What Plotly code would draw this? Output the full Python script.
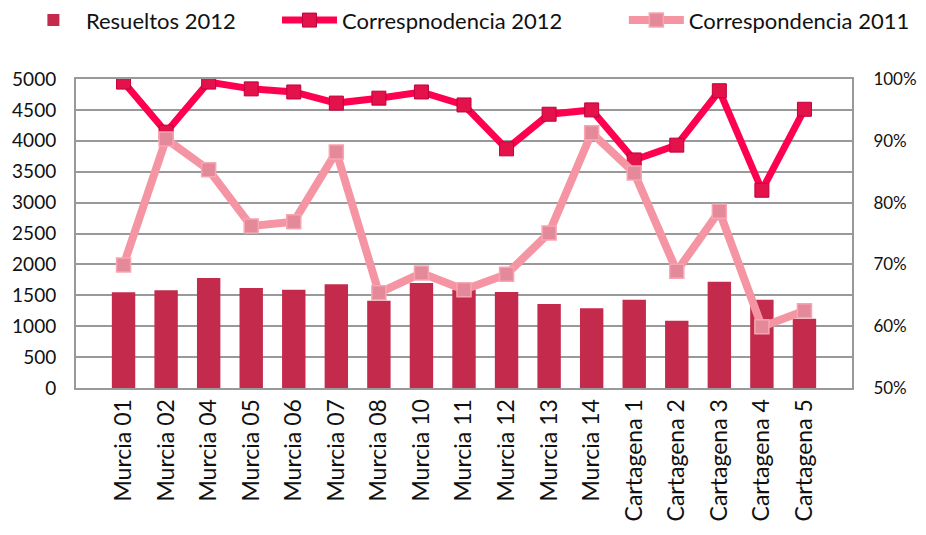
import plotly.graph_objects as go

# categorias
oficinas = ["Murcia 01", "Murcia 02", "Murcia 04", "Murcia 05", "Murcia 06", "Murcia 07",
            "Murcia 08", "Murcia 10", "Murcia 11", "Murcia 12", "Murcia 13", "Murcia 14",
            "Cartagena 1", "Cartagena 2", "Cartagena 3", "Cartagena 4", "Cartagena 5"]

# expedientes resueltos 2012 (eje izquierdo)
resueltos_2012 = [1550, 1580, 1780, 1620, 1590, 1680, 1410, 1700, 1590, 1555,
                  1360, 1290, 1430, 1090, 1720, 1430, 1120]

# correspondencia (eje derecho, fraccion)
corr_2012 = [0.995, 0.914, 0.995, 0.984, 0.979, 0.961, 0.969, 0.979, 0.958, 0.887,
             0.943, 0.950, 0.869, 0.893, 0.981, 0.820, 0.951]
corr_2011 = [0.699, 0.903, 0.853, 0.762, 0.769, 0.882, 0.654, 0.686, 0.659, 0.684,
             0.751, 0.913, 0.848, 0.689, 0.786, 0.599, 0.625]

font_name = "Lato"

fig = go.Figure()

fig.add_trace(go.Bar(
    x=oficinas, y=resueltos_2012, name="Resueltos 2012", legend="legend",
    marker=dict(color="#C42A4C", line=dict(width=0)),
    width=0.55,
))
fig.add_trace(go.Scatter(
    x=oficinas, y=corr_2012, name="Correspnodencia 2012", yaxis="y2", legend="legend2",
    mode="lines+markers",
    line=dict(color="#FF0050", width=7),
    marker=dict(symbol="square", size=14, color="#E3124B",
                line=dict(color="#C0003A", width=1)),
))
fig.add_trace(go.Scatter(
    x=oficinas, y=corr_2011, name="Correspondencia 2011", yaxis="y2", legend="legend3",
    mode="lines+markers",
    line=dict(color="#F595A3", width=8),
    marker=dict(symbol="square", size=14, color="#E4899A",
                line=dict(color="#F7A5B1", width=1.5)),
))

leg = dict(orientation="h", xanchor="left", y=1.19, yanchor="middle",
           font=dict(size=22), itemwidth=55, bgcolor="rgba(0,0,0,0)")

fig.update_layout(
    width=926, height=535,
    # la pagina tiene 8px de margen por defecto
    margin=dict(l=68, r=82, t=71, b=155, autoexpand=False),
    paper_bgcolor="white", plot_bgcolor="white",
    font=dict(family=font_name, size=20, color="#111"),
    showlegend=True,
    legend=dict(leg, x=-0.071),
    legend2=dict(leg, x=0.259),
    legend3=dict(leg, x=0.706),
    bargap=0.45,
    xaxis=dict(
        tickangle=-90, showgrid=False,
        showline=True, linecolor="#999", linewidth=2, mirror=True,
        ticks="", tickfont=dict(size=23),
    ),
    yaxis=dict(
        range=[0, 5000], dtick=500, showgrid=True, gridcolor="#999", gridwidth=2,
        showline=True, linecolor="#999", linewidth=2,
        tickfont=dict(size=19), ticks="", zeroline=False, ticklabelstandoff=14,
    ),
    yaxis2=dict(
        range=[0.5, 1.0], dtick=0.1, tickformat=".0%", overlaying="y", side="right",
        showgrid=False, showline=True, linecolor="#999", linewidth=2,
        tickfont=dict(size=17), zeroline=False, ticklabelstandoff=16,
    ),
)

fig.write_html("out.html")
